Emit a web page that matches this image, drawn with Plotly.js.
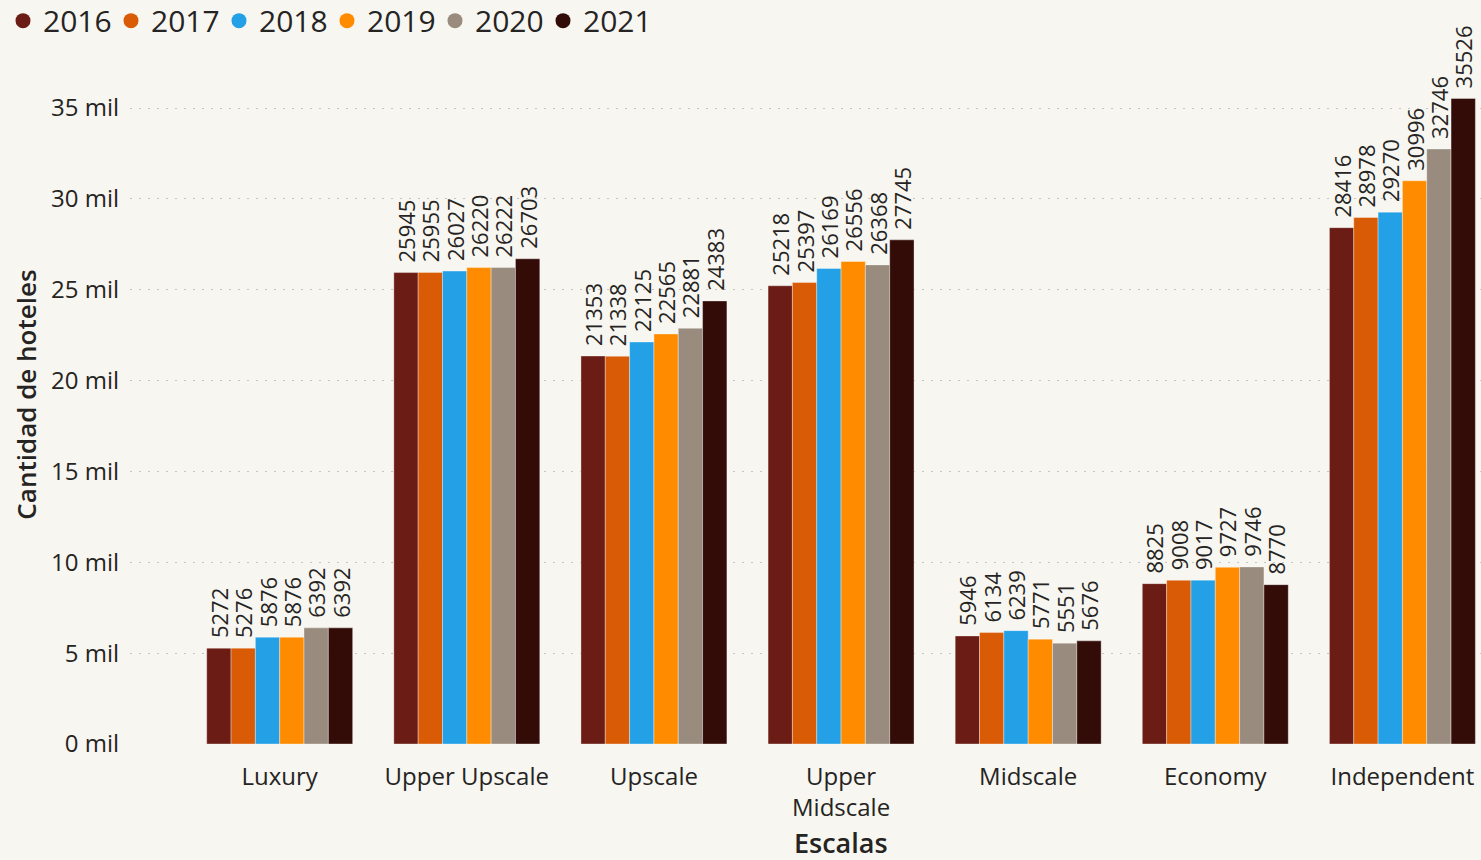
<!DOCTYPE html>
<html>
<head>
<meta charset="utf-8">
<script src="https://cdn.plot.ly/plotly-3.0.1.min.js"></script>
<style>
  html, body { margin: 0; padding: 0; background: #F7F6F0; }
  #chart { width: 1481px; height: 860px; }
</style>
</head>
<body>
<div id="chart"></div>
<script>
const categories = ["Luxury", "Upper Upscale", "Upscale", "Upper<br>Midscale", "Midscale", "Economy", "Independent"];
const years = ["2016", "2017", "2018", "2019", "2020", "2021"];
const colors = ["#6B1C14", "#DA5B05", "#23A0E6", "#FF8C00", "#998B7D", "#330C08"];

const v2016 = [5272, 25945, 21353, 25218, 5946, 8825, 28416];
const v2017 = [5276, 25955, 21338, 25397, 6134, 9008, 28978];
const v2018 = [5876, 26027, 22125, 26169, 6239, 9017, 29270];
const v2019 = [5876, 26220, 22565, 26556, 5771, 9727, 30996];
const v2020 = [6392, 26222, 22881, 26368, 5551, 9746, 32746];
const v2021 = [6392, 26703, 24383, 27745, 5676, 8770, 35526];
const series = [v2016, v2017, v2018, v2019, v2020, v2021];

const yTickVals = [0, 5000, 10000, 15000, 20000, 25000, 30000, 35000];
const yTickText = ["0 mil", "5 mil", "10 mil", "15 mil", "20 mil", "25 mil", "30 mil", "35 mil"];

const FONT = "'Segoe UI', 'Open Sans', 'Noto Sans', sans-serif";
const PAD = '<span style="color:rgba(0,0,0,0)">-</span>';

const traces = [];
series.forEach((vals, i) => {
  traces.push({
    type: "bar",
    name: years[i],
    x: categories,
    y: vals,
    marker: { color: colors[i], line: { color: "rgba(255,255,255,0.35)", width: 1 } },
    text: vals.map(v => PAD + String(v)),
    texttemplate: "%{text}",
    textposition: "outside",
    textangle: -90,
    constraintext: "none",
    cliponaxis: false,
    textfont: { family: FONT, size: 22, color: "#252423" },
    showlegend: false,
    hoverinfo: "x+y+name"
  });
});
years.forEach((yr, i) => {
  traces.push({
    type: "scatter",
    mode: "markers",
    name: yr,
    x: [null],
    y: [null],
    marker: { color: colors[i], size: 15, symbol: "circle" },
    showlegend: true,
    hoverinfo: "skip"
  });
});

const layout = {
  width: 1481,
  height: 860,
  paper_bgcolor: "#F7F6F0",
  plot_bgcolor: "#F7F6F0",
  font: { family: FONT, color: "#252423" },
  margin: { l: 130, r: 0, t: 45, b: 116, pad: 0, autoexpand: false },
  barmode: "group",
  bargap: 0.22,
  bargroupgap: 0,
  showlegend: true,
  legend: {
    orientation: "h",
    xref: "paper",
    yref: "paper",
    x: -0.094,
    y: 1.072,
    xanchor: "left",
    yanchor: "top",
    font: { family: FONT, size: 30, color: "#252423" },
    itemwidth: 30,
    entrywidth: 63,
    entrywidthmode: "pixels",
    tracegroupgap: 0,
    bgcolor: "rgba(0,0,0,0)"
  },
  xaxis: {
    type: "category",
    range: [-0.8, 6.42],
    showgrid: false,
    zeroline: false,
    showline: false,
    ticks: "",
    ticklabelstandoff: 16,
    tickfont: { family: FONT, size: 24, color: "#252423" },
    automargin: false
  },
  yaxis: {
    range: [0, 38470],
    tickvals: yTickVals,
    ticktext: yTickText,
    tickfont: { family: FONT, size: 24, color: "#252423" },
    showgrid: true,
    gridcolor: "#C4C4C4",
    griddash: "2px,7px",
    gridwidth: 1,
    zeroline: false,
    showline: false,
    ticks: "",
    ticklabelstandoff: 10,
    automargin: false,
    title: {
      text: "Cantidad de hoteles",
      font: { family: FONT, size: 26, color: "#252423", weight: 600 },
      standoff: 6
    }
  },
  annotations: [{
    text: "Escalas",
    xref: "x",
    yref: "paper",
    x: 3,
    y: -0.1415,
    xanchor: "center",
    yanchor: "middle",
    showarrow: false,
    font: { family: FONT, size: 27, color: "#252423", weight: 600 }
  }]
};

Plotly.newPlot("chart", traces, layout, { displayModeBar: false, staticPlot: true });
</script>
</body>
</html>
